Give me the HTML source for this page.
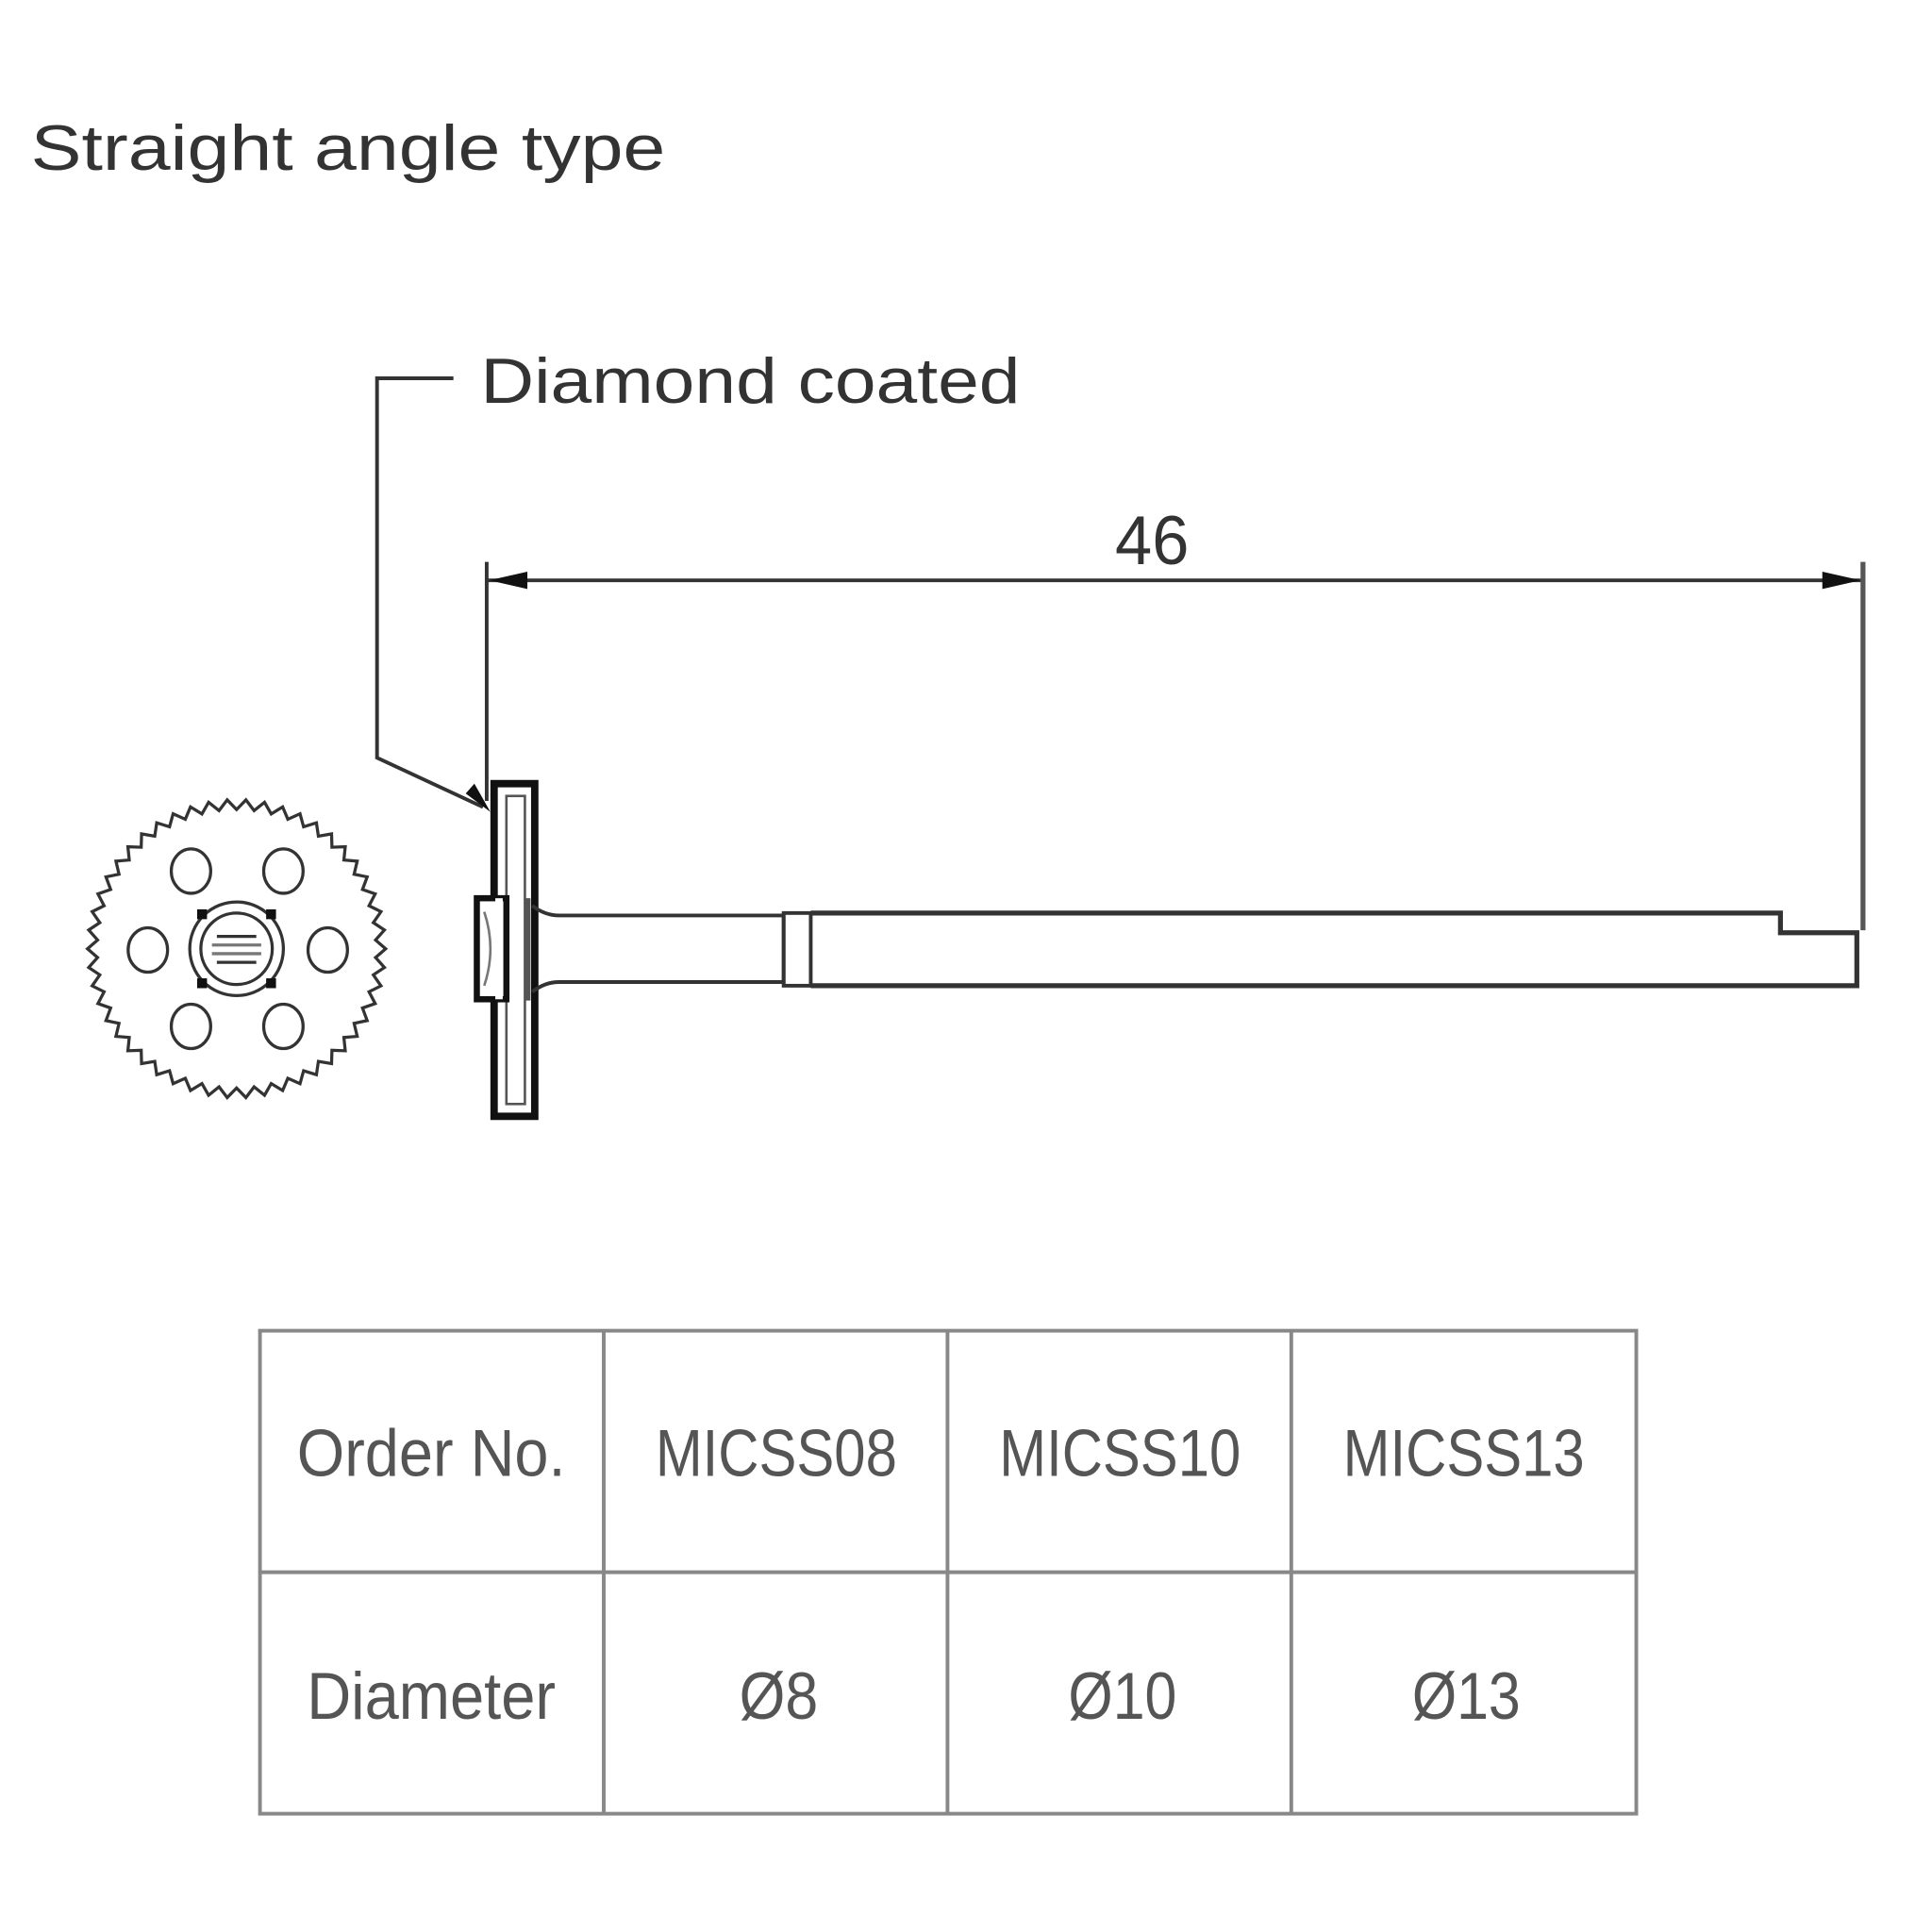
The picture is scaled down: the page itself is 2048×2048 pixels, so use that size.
<!DOCTYPE html>
<html><head><meta charset="utf-8"><style>
html,body{margin:0;padding:0;background:#fff;}
svg{display:block;}
</style></head><body>
<svg id="s" width="2048" height="2048" viewBox="0 0 1568 1568" xmlns="http://www.w3.org/2000/svg">
<rect width="1568" height="1568" fill="#fff"/>
<g font-family="Liberation Sans, sans-serif" fill="#333">
<text x="25" y="138" font-size="52" textLength="515" lengthAdjust="spacingAndGlyphs">Straight angle type</text>
<text x="390" y="327" font-size="52" textLength="438" lengthAdjust="spacingAndGlyphs">Diamond coated</text>
<text x="935" y="458" font-size="56" text-anchor="middle" textLength="60" lengthAdjust="spacingAndGlyphs">46</text>
</g>
<g stroke="#333" fill="none" stroke-width="3">
<line x1="395" y1="471" x2="1512" y2="471"/>
<line x1="395" y1="456" x2="395" y2="650" stroke-width="3"/>
<line x1="1512" y1="456" x2="1512" y2="755" stroke-width="4" stroke="#555"/>
<polyline points="368,307 306,307 306,615 392,655"/>
</g>
<g fill="#111">
<polygon points="397,471 428,464 428,478"/>
<polygon points="1510,471 1479,464 1479,478"/>
<polygon points="398,659 378,644 385,636"/>
</g>
<g stroke="#111" fill="none">
<rect x="401" y="636" width="33" height="270" stroke-width="6"/>
<rect x="411" y="646" width="15" height="250" stroke-width="2" stroke="#555"/>
<rect x="387" y="729" width="24" height="82" stroke-width="5" fill="#fff"/>
<path d="M393 740 q10 30 0 60" stroke-width="2" stroke="#777"/>
<line x1="428" y1="729" x2="428" y2="812" stroke="#555" stroke-width="5"/>
</g>
<rect x="402" y="729" width="6" height="82" fill="#fff"/>
<g stroke="#333" fill="none" stroke-width="3">
<path d="M432 735 q10 8 22 8 L636 743 L636 797 L454 797 q-12 0 -22 8"/>
<rect x="636" y="741" width="22" height="59"/>
<path d="M658 741 L1445 741 L1445 757 L1507 757 L1507 800 L658 800" stroke-width="4"/>
</g>
<g stroke="#333" fill="none" stroke-width="2.5">
<polygon id="gear" points=""/>
<ellipse cx="155" cy="707" rx="16" ry="18"/>
<ellipse cx="230" cy="707" rx="16" ry="18"/>
<ellipse cx="120" cy="771" rx="16" ry="18"/>
<ellipse cx="266" cy="771" rx="16" ry="18"/>
<ellipse cx="155" cy="833" rx="16" ry="18"/>
<ellipse cx="230" cy="833" rx="16" ry="18"/>
<circle cx="192" cy="770" r="38"/>
<circle cx="192" cy="770" r="29"/>
<line x1="176" y1="760" x2="208" y2="760"/>
<line x1="172" y1="767" x2="212" y2="767" stroke="#777"/>
<line x1="172" y1="774" x2="212" y2="774" stroke="#777"/>
<line x1="176" y1="781" x2="208" y2="781"/>
</g>
<g fill="#111">
<rect x="160" y="738" width="8" height="8"/><rect x="216" y="738" width="8" height="8"/>
<rect x="160" y="794" width="8" height="8"/><rect x="216" y="794" width="8" height="8"/>
</g>
<g stroke="#888" stroke-width="3" fill="none">
<rect x="211" y="1080" width="1117" height="392"/>
<line x1="211" y1="1276" x2="1328" y2="1276"/>
<line x1="490" y1="1080" x2="490" y2="1472"/>
<line x1="769" y1="1080" x2="769" y2="1472"/>
<line x1="1048" y1="1080" x2="1048" y2="1472"/>
</g>
<g font-family="Liberation Sans, sans-serif" fill="#555" font-size="54" text-anchor="middle">
<text x="350" y="1198" textLength="218" lengthAdjust="spacingAndGlyphs">Order No.</text>
<text x="630" y="1198" textLength="196" lengthAdjust="spacingAndGlyphs">MICSS08</text>
<text x="909" y="1198" textLength="196" lengthAdjust="spacingAndGlyphs">MICSS10</text>
<text x="1188" y="1198" textLength="196" lengthAdjust="spacingAndGlyphs">MICSS13</text>
<text x="350" y="1395" textLength="202" lengthAdjust="spacingAndGlyphs">Diameter</text>
<text x="632" y="1395" textLength="64" lengthAdjust="spacingAndGlyphs">Ø8</text>
<text x="911" y="1395" textLength="88" lengthAdjust="spacingAndGlyphs">Ø10</text>
<text x="1190" y="1395" textLength="88" lengthAdjust="spacingAndGlyphs">Ø13</text>
</g>
</svg>
<script>
(function(){var p=[],n=50,cx=192,cy=770;
for(var i=0;i<n;i++){var a=i/n*2*Math.PI,b=(i+0.5)/n*2*Math.PI;
p.push((cx+121*Math.cos(a)).toFixed(1)+","+(cy+121*Math.sin(a)).toFixed(1));
p.push((cx+113*Math.cos(b)).toFixed(1)+","+(cy+113*Math.sin(b)).toFixed(1));}
document.getElementById("gear").setAttribute("points",p.join(" "));})();
</script>
</body></html>
